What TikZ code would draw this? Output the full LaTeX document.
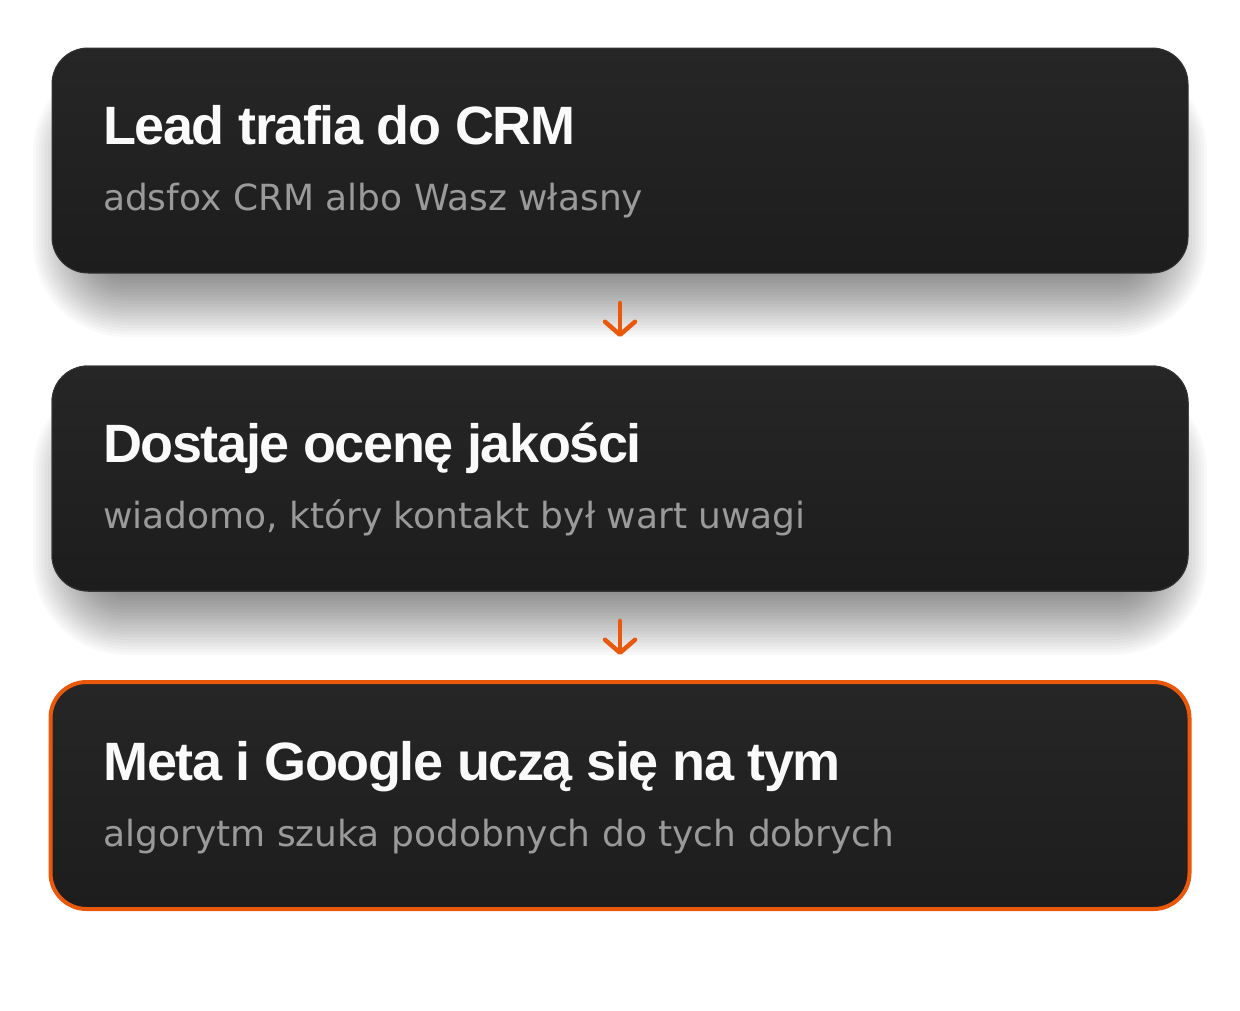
\documentclass[tikz,border=0pt]{standalone}
\usepackage{fontspec}
\setmainfont{DejaVu Sans}
\newfontfamily\headfont[LetterSpace=-2.6]{Liberation Sans}
\usetikzlibrary{positioning,calc,arrows.meta}
\definecolor{cardtop}{HTML}{262626}
\definecolor{cardbot}{HTML}{1D1D1D}
\definecolor{cardedge}{HTML}{333333}
\definecolor{accent}{HTML}{E8590C}
\definecolor{subgray}{HTML}{9A9A9A}
\definecolor{titlewhite}{HTML}{FAFAFA}

% soft shadow under a card, stacked translucent layers
\newcommand{\cardshadow}[1]{%
  \foreach \k in {0,...,23}{
    \fill[black, opacity=0.025, rounded corners={24pt+3pt*\k}]
      ($(#1.north west)+(50-3*\k,80-3*\k)$) rectangle ($(#1.south east)+(-50+3*\k,-5+3*\k)$);
  }}

\begin{document}
\begin{tikzpicture}[x=1pt, y=-1pt, node distance=93pt, outer sep=0pt]
\tikzset{
  card/.style={rounded corners=36pt, minimum width=1136pt, minimum height=225pt,
    top color=cardtop, bottom color=cardbot, draw=cardedge, line width=1pt},
  hot/.style={draw=accent, line width=4pt, minimum width=1139pt, minimum height=227pt},
  headline/.style={anchor=base west, inner sep=0pt, text=titlewhite, font=\headfont\fontsize{54}{60}\selectfont\bfseries},
  subline/.style={anchor=base west, inner sep=0pt, text=subgray, font=\fontsize{36}{42}\selectfont},
  step arrow/.style={draw=accent, line width=4.5pt, line cap=round,
    -{Straight Barb[round, length=13pt, width=30pt]}, shorten <=30pt, shorten >=29pt}
}
\fill[white] (0,0) rectangle (1240,1010);

% cards
\path (620,160.5) coordinate (c1);
\path (c1) node[card, opacity=0] (crm) {};
\cardshadow{crm}
\node[card] (crm) at (c1) {};
\node[card, below=of crm] (score) {};
\cardshadow{score}
\node[card, below=of crm] (score) {};
\node[card, hot, below=91pt of score] (learn) {};

% texts
\node[headline] (crmT) at ($(crm.north west)+(51,96)$) {Lead trafia do CRM};
\node[subline] (crmS) at ($(crm.north west)+(51,162)$) {adsfox CRM albo Wasz własny};
\node[headline] (scoreT) at ($(score.north west)+(51,96)$) {Dostaje ocenę jakości};
\node[subline] (scoreS) at ($(score.north west)+(51,162)$) {wiadomo, który kontakt był wart uwagi};
\node[headline] (learnT) at ($(learn.north west)+(53,98)$) {Meta i Google uczą się na tym};
\node[subline] (learnS) at ($(learn.north west)+(53,164)$) {algorytm szuka podobnych do tych dobrych};

% arrows
\draw[step arrow] (crm.south) -- (score.north);
\draw[step arrow, shorten >=27pt] (score.south) -- (learn.north);
\end{tikzpicture}
\end{document}
